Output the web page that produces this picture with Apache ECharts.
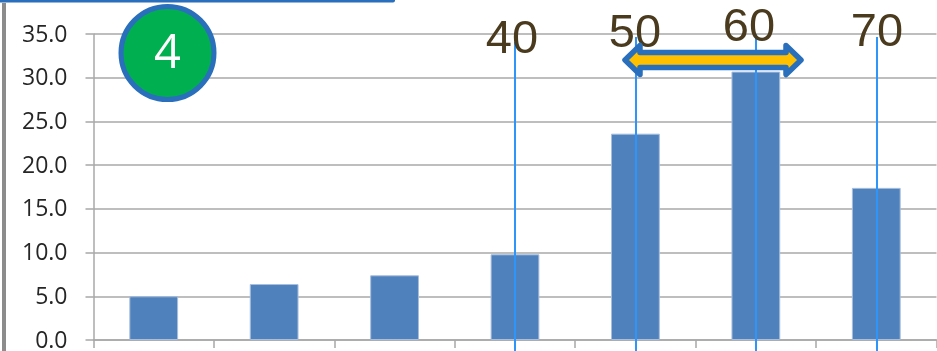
<!DOCTYPE html>
<html>
<head>
<meta charset="utf-8">
<style>
  html, body { margin: 0; padding: 0; background: #fff; }
  #chart { width: 937px; height: 351px; }
</style>
<script src="https://cdn.jsdelivr.net/npm/echarts@6/dist/echarts.min.js"></script>
</head>
<body>
<div id="chart"></div>
<script>
// Bar heights per age band
const categories = ['10', '20', '30', '40', '50', '60', '70'];
const values = [5.0, 6.4, 7.4, 9.8, 23.6, 30.7, 17.4];
const markedBands = ['40', '50', '60', '70'];
const badgeText = '4';

const axisGray = '#A8A8A8';
const guideBlue = '#3095F8';
const outlineBlue = '#2A6FBB';

// Vertical guides run from just under each band label to the bottom edge
const guideTops = { '40': 42, '50': 37, '60': 34, '70': 37 };
const guides = markedBands.map(b => [
  { xAxis: b, y: guideTops[b] },
  { xAxis: b, y: 351 }
]);

// Band labels above the guides
const labelSpots = { '40': [512, 40], '50': [635, 34], '60': [749, 28], '70': [877, 33] };
const bandLabels = markedBands.map(b => ({
  type: 'text',
  z: 20,
  x: labelSpots[b][0],
  y: labelSpots[b][1],
  style: {
    text: b,
    font: '47px "Liberation Sans"',
    fill: '#4A3A1E',
    textAlign: 'center',
    textVerticalAlign: 'middle'
  }
}));

const chart = echarts.init(document.getElementById('chart'), null, { renderer: 'canvas' });
chart.setOption({
  animation: false,
  grid: { left: 93.5, right: 0.5, top: 34, bottom: 11, outerBoundsMode: 'none' },
  xAxis: {
    type: 'category',
    data: categories,
    axisLine: { lineStyle: { color: axisGray, width: 1.5 } },
    axisTick: { show: true, length: 8, lineStyle: { color: axisGray, width: 1.5 } },
    axisLabel: { show: false },
    splitLine: { show: false }
  },
  yAxis: {
    type: 'value',
    min: 0,
    max: 35,
    interval: 5,
    axisLine: { show: true, lineStyle: { color: axisGray, width: 1.5 } },
    axisTick: { show: true, length: 8, lineStyle: { color: axisGray, width: 1.5 } },
    axisLabel: {
      margin: 26,
      formatter: v => '{n|' + v.toFixed(1) + '}',
      rich: {
        n: {
          color: '#262626',
          fontFamily: 'Open Sans',
          fontSize: 23,
          padding: [2, 0, 0, 0]
        }
      }
    },
    splitLine: { show: true, lineStyle: { color: axisGray, width: 1.5 } }
  },
  series: [{
    type: 'bar',
    data: values,
    barWidth: '40.5%',
    itemStyle: { color: '#4F81BD', borderColor: '#A8BEDC', borderWidth: 1 },
    markLine: {
      silent: true,
      symbol: 'none',
      animation: false,
      label: { show: false },
      lineStyle: { color: guideBlue, width: 2, type: 'solid' },
      data: guides
    }
  }],
  graphic: [
    // Frame pieces along the top and left edges
    { type: 'rect', z: 5, shape: { x: -6, y: -4, width: 401, height: 6.5, r: 2 }, style: { fill: outlineBlue } },
    { type: 'rect', z: 5, shape: { x: 2, y: 3, width: 4, height: 348 }, style: { fill: '#8C8C8C' } },
    // Numbered badge
    {
      type: 'circle', z: 20,
      shape: { cx: 167.5, cy: 53, r: 46.5 },
      style: { fill: '#00B050', stroke: outlineBlue, lineWidth: 5 }
    },
    {
      type: 'text', z: 21, x: 167.5, y: 55,
      style: {
        text: badgeText,
        font: '47px "Open Sans"',
        fill: '#FFFFFF',
        textAlign: 'center',
        textVerticalAlign: 'middle'
      }
    },
    ...bandLabels,
    // Double-headed range arrow across the 50 and 60 bands
    {
      type: 'polygon', z: 25,
      shape: {
        points: [
          [625, 60], [640, 45.5], [640, 52.5], [786, 52.5], [786, 45.5],
          [801, 60], [786, 74.5], [786, 67.5], [640, 67.5], [640, 74.5]
        ]
      },
      style: { fill: '#FFC000', stroke: outlineBlue, lineWidth: 5.5, lineJoin: 'round' }
    }
  ]
});
</script>
</body>
</html>
